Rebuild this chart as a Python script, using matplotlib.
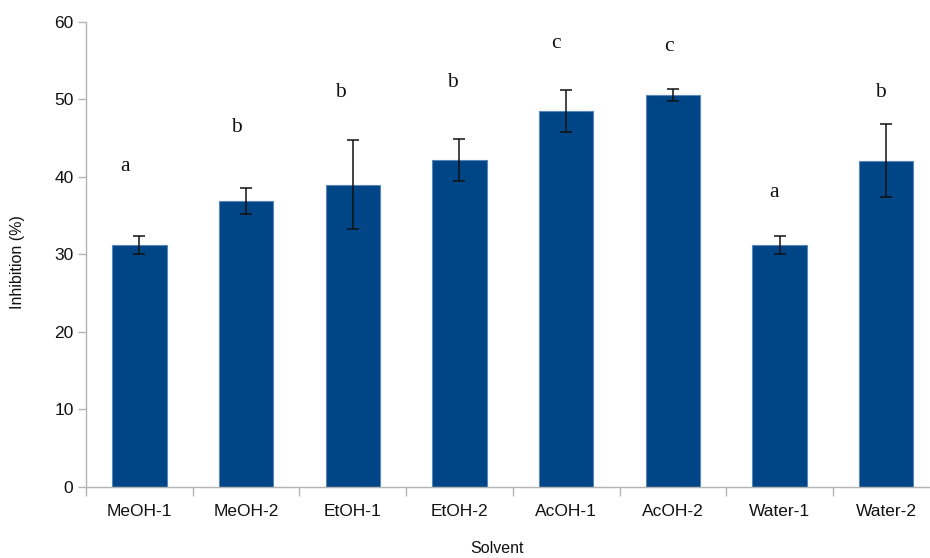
import matplotlib.pyplot as plt
import numpy as np

solvents = ['MeOH-1', 'MeOH-2', 'EtOH-1', 'EtOH-2', 'AcOH-1', 'AcOH-2', 'Water-1', 'Water-2']
inhibition = [31.2, 36.9, 39.0, 42.2, 48.5, 50.6, 31.2, 42.1]
errors = [1.2, 1.65, 5.7, 2.7, 2.67, 0.77, 1.2, 4.7]
letters = ['a', 'b', 'b', 'b', 'c', 'c', 'a', 'b']
letter_y = [41.3, 46.35, 50.9, 52.2, 57.2, 56.8, 38.0, 50.9]
letter_dx = [-0.13, -0.09, -0.12, -0.07, -0.1, -0.04, -0.05, -0.05]

plt.rcParams['font.family'] = ['Liberation Sans', 'DejaVu Sans']
text_color = '#111111'
axis_color = '#b3b3b3'

fig = plt.figure(figsize=(9.3, 5.58), dpi=100)
# the plot area runs a little past the right edge of the picture
ax = fig.add_axes([86 / 930, 71.3 / 558, 853.6 / 930, 464.7 / 558])

x = np.arange(len(solvents))
ax.bar(x, inhibition, width=0.51, color='#004586', edgecolor='#5a85b8', linewidth=0.8, zorder=2)
ax.errorbar(x, inhibition, yerr=errors, fmt='none', ecolor='#111111', elinewidth=1.1,
            capsize=4.5, capthick=1.1, zorder=3)

for i, (lab, ly) in enumerate(zip(letters, letter_y)):
    ax.text(i + letter_dx[i], ly, lab, family='Liberation Serif', fontsize=15.5,
            ha='center', va='center', color=text_color)

ax.set_xlim(-0.5, len(solvents) - 0.5)
ax.set_ylim(0, 60)
ax.set_yticks(range(0, 61, 10))
ax.set_xticks(x)
ax.set_xticklabels(solvents)
ax.set_xticks(np.arange(len(solvents)) - 0.5, minor=True)

ax.tick_params(axis='x', which='major', length=0, pad=12.5, labelsize=12.5, labelcolor=text_color)
ax.tick_params(axis='x', which='minor', length=6.5, width=1, color=axis_color)
ax.tick_params(axis='y', length=6, width=1, color=axis_color, pad=3, labelsize=12.5, labelcolor=text_color)

for side in ['top', 'right']:
    ax.spines[side].set_visible(False)
for side in ['left', 'bottom']:
    ax.spines[side].set_color(axis_color)
    ax.spines[side].set_linewidth(1)

ax.set_ylabel('Inhibition (%)', fontsize=11.5, color=text_color)
ax.yaxis.set_label_coords(-0.0797, 0.4835)
ax.set_xlabel('Solvent', fontsize=11.5, color=text_color)
ax.xaxis.set_label_coords(0.4815, -0.134)
ax.xaxis.label.set_va('center')
ax.yaxis.label.set_va('center')

plt.savefig('out.png', dpi=100)
plt.close()
